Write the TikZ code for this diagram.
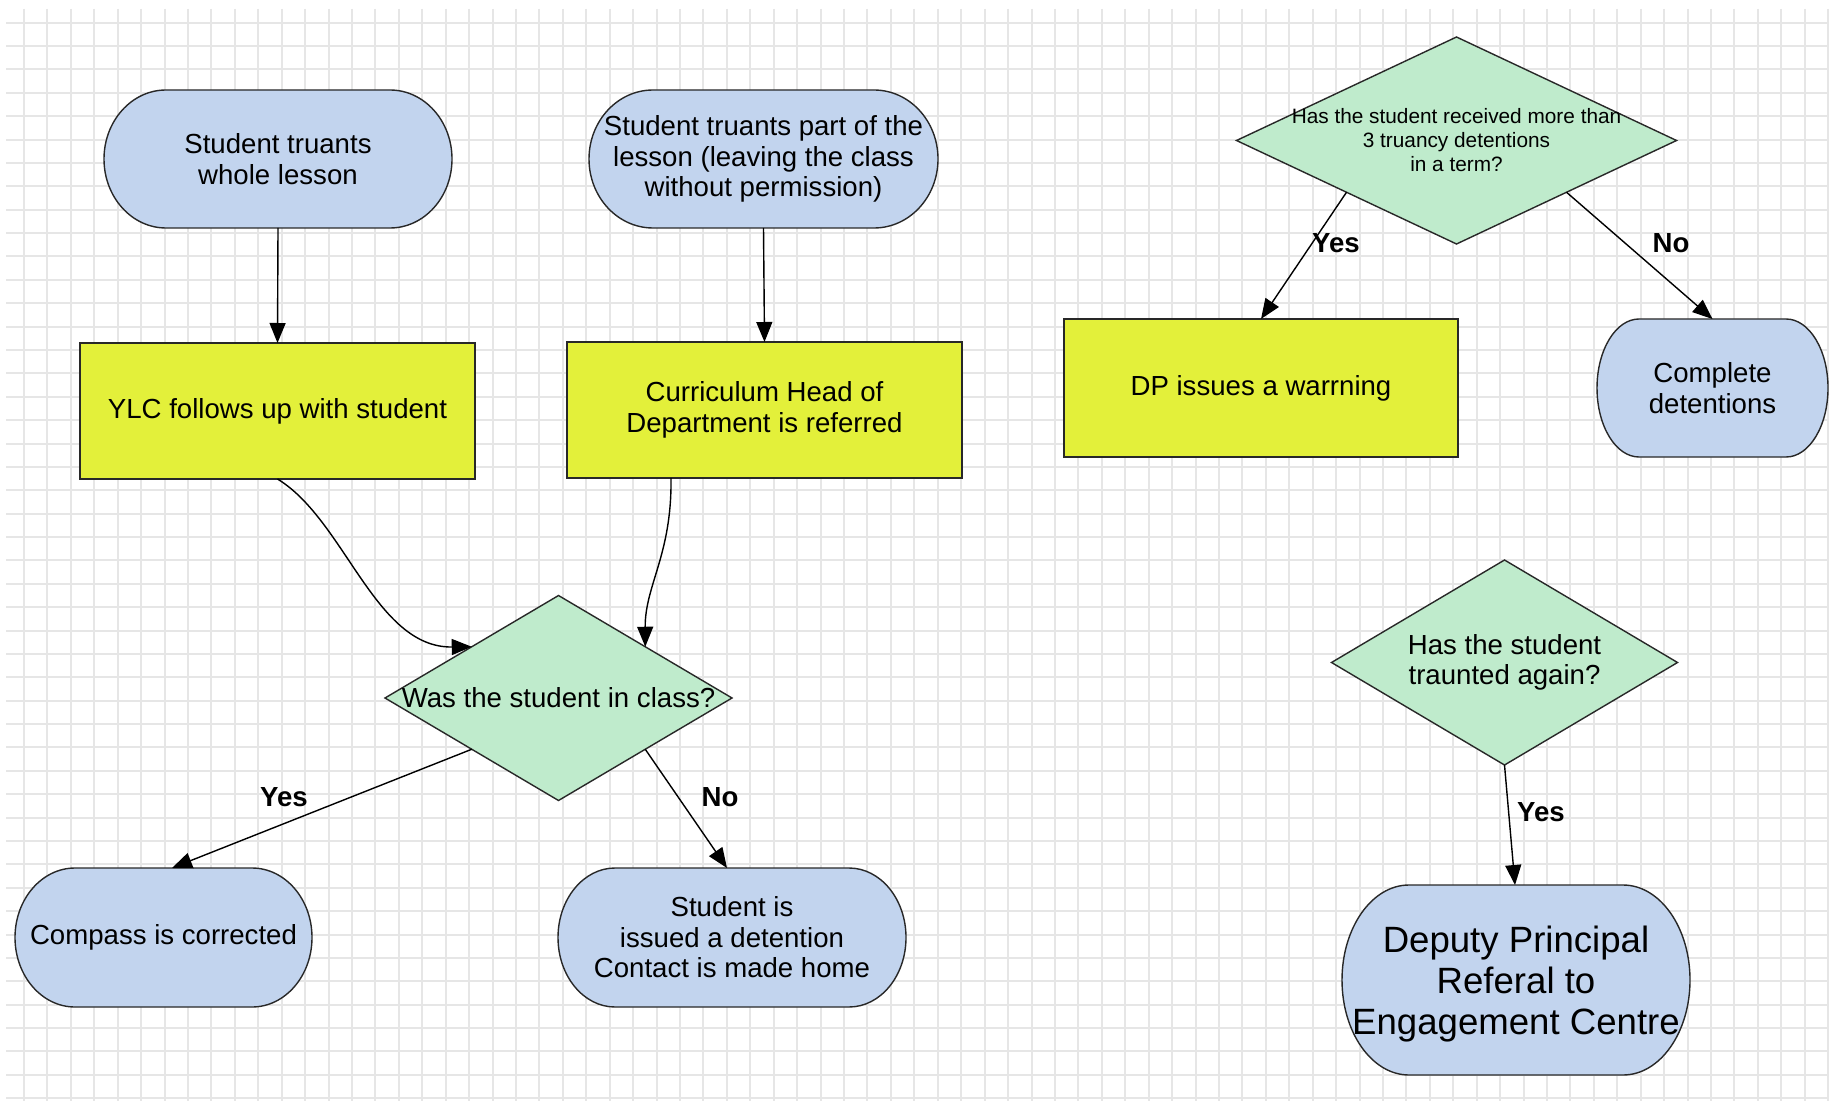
\documentclass[tikz,border=0pt]{standalone}
\usepackage{fontspec}
\setmainfont{Liberation Sans}
\usetikzlibrary{shapes.geometric,arrows.meta}
\definecolor{termblue}{RGB}{194,212,238}
\definecolor{procyellow}{RGB}{227,240,58}
\definecolor{decgreen}{RGB}{191,235,204}
\definecolor{edgecol}{RGB}{40,40,40}
\definecolor{gridcol}{RGB}{230,230,230}
\newcommand\mainsize{\fontsize{13.8}{15.2}\selectfont}
\newcommand\smallsz{\fontsize{10.4}{12}\selectfont}
\newcommand\bigsz{\fontsize{18.3}{20.5}\selectfont}
% [node options] name, cx, cy (px, down), half width, half height, end radius, text
\newcommand\termnode[8][]{%
  \filldraw[termfill] ({#3-#5+#7},{-#4+#6}) -- ({#3+#5-#7},{-#4+#6})
    arc[start angle=90,end angle=-90,x radius={#7*0.5pt},y radius={#6*0.5pt}]
    -- ({#3-#5+#7},{-#4-#6})
    arc[start angle=270,end angle=90,x radius={#7*0.5pt},y radius={#6*0.5pt}] -- cycle;
  \node[termtext,minimum width=#5pt,minimum height=#6pt,#1] (#2) at (#3,-#4) {#8};}
\begin{document}
\begin{tikzpicture}[x=0.5pt,y=0.5pt,
  gridline/.style={draw=gridcol,line width=1pt},
  termfill/.style={fill=termblue,draw=edgecol,line width=0.7pt},
  termtext/.style={inner sep=0pt,outer sep=0pt,align=center,font=\mainsize},
  proc/.style={rectangle,fill=procyellow,draw=edgecol,line width=0.7pt,inner sep=0pt,outer sep=0pt,align=center,font=\mainsize},
  dia/.style={diamond,fill=decgreen,draw=edgecol,line width=0.7pt,inner sep=0pt,outer sep=0pt},
  dtext/.style={inner sep=0pt,align=center,font=\mainsize},
  lbl/.style={font=\mainsize\bfseries,inner sep=0pt},
  conn/.style={draw=black,line width=0.7pt,-{Triangle[length=10pt,width=8pt]}},
]
\useasboundingbox (0,0) rectangle (1829,-1101);
\fill[white] (0,0) rectangle (1829,-1101);
% grid
\foreach \i in {0,...,77} \draw[gridline] ({24+\i*23.43},-9) -- ({24+\i*23.43},-1101);
\foreach \j in {0,...,46} \draw[gridline] (6,{-22.7-\j*23.38}) -- (1829,{-22.7-\j*23.38});

% terminals
\termnode{sa}{278}{159}{174}{69}{62}{Student truants\\whole lesson}
\termnode{sb}{763.5}{159}{174.5}{69}{64}{Student truants part of the\\lesson (leaving the class\\without permission)}
\termnode{cmp}{163.5}{937.5}{148.5}{69.5}{60}{Compass is corrected}
\termnode{stu}{732}{937.5}{174}{69.5}{57}{Student is\\issued a detention\\Contact is made home}
\termnode{cpl}{1712.5}{388}{115.5}{69}{42}{Complete\\detentions}
\termnode[font=\bigsz,text depth=0pt]{dep}{1516}{980}{174}{95}{67}{Deputy Principal\\Referal to\\Engagement Centre}

% process boxes
\node[proc,minimum width=197.5pt,minimum height=68pt] (ylc) at (277.5,-411) {YLC follows up with student};
\node[proc,minimum width=197.5pt,minimum height=68pt] (cur) at (764.5,-410) {Curriculum Head of\\Department is referred};
\node[proc,minimum width=197pt,minimum height=69pt] (dp) at (1261,-388) {DP issues a warrning};

% decisions
\node[dia,minimum width=173.5pt,minimum height=102.5pt] (d1) at (558.5,-698) {};
\node[dtext] (t1) at (d1.center) {Was the student in class?};
\node[dia,minimum width=220pt,minimum height=103.5pt] (d2) at (1456.5,-140.5) {};
\node[dtext,font=\smallsz] (t2) at (d2.center) {Has the student received more than\\3 truancy detentions\\in a term?};
\node[dia,minimum width=173pt,minimum height=102.5pt] (d3) at (1504.5,-662.5) {};
\node[dtext] (t3) at (d3.center) {Has the student\\traunted again?};

% connectors
\draw[conn] (sa.south) -- (ylc.north);
\draw[conn] (sb.south) -- (cur.north);
\draw[conn] (ylc.south) .. controls (345,-520) and (375,-648) .. (d1.north west);
\draw[conn] ([xshift=-46.75pt]cur.south) .. controls (672,-555) and (645,-585) .. (d1.north east);
\draw[conn] (d1.south west) -- ([xshift=4.25pt]cmp.north);
\draw[conn] (d1.south east) -- ([xshift=-2.5pt]stu.north);
\draw[conn] (d2.south west) -- (dp.north);
\draw[conn] (d2.south east) -- (cpl.north);
\draw[conn] (d3.south) -- ([xshift=-0.5pt]dep.north);

% labels
\node[lbl] (l1) at (284,-797) {Yes};
\node[lbl] (l2) at (720,-797) {No};
\node[lbl] (l3) at (1336,-243) {Yes};
\node[lbl] (l4) at (1671,-243) {No};
\node[lbl] (l5) at (1541,-812) {Yes};
\end{tikzpicture}
\end{document}
